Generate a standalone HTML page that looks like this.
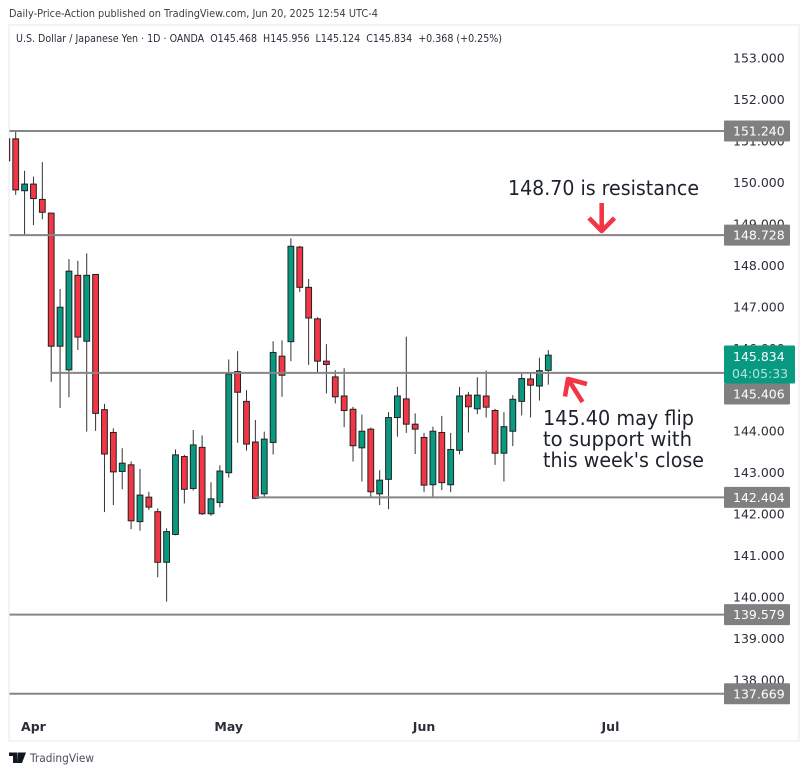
<!DOCTYPE html>
<html>
<head>
<meta charset="utf-8">
<title>USD/JPY daily chart</title>
<style>
html,body{margin:0;padding:0;background:#fff;width:808px;height:774px;overflow:hidden}
svg{display:block;font-family:"DejaVu Sans","Liberation Sans",sans-serif}
</style>
</head>
<body>
<svg id="chart" width="808" height="774" viewBox="0 0 808 774" xmlns="http://www.w3.org/2000/svg">
  <defs><clipPath id="pane"><rect x="9" y="25" width="714" height="716"/></clipPath></defs>
  <text x="9" y="17" font-size="10.5" fill="#3a3d45" textLength="369" lengthAdjust="spacingAndGlyphs">Daily-Price-Action published on TradingView.com, Jun 20, 2025 12:54 UTC-4</text>
  <rect x="9" y="25" width="790" height="716" fill="#fff" stroke="#f4f4f4" stroke-width="2"/>
  <text x="16" y="42" font-size="10.5" fill="#2a2e39" textLength="486" lengthAdjust="spacingAndGlyphs" xml:space="preserve">U.S. Dollar / Japanese Yen · 1D · OANDA  O145.468  H145.956  L145.124  C145.834  +0.368 (+0.25%)</text>
  <g id="ticks"></g>
  <g id="candles" clip-path="url(#pane)"></g>
  <g id="levels"></g>
  <g id="months"></g>
  <g id="last"></g>

  <text x="508" y="195" font-size="20" fill="#1e222d" textLength="191" lengthAdjust="spacingAndGlyphs">148.70 is resistance</text>
  <path d="M601.7 203V231M589 218L601.7 231L614.5 218" fill="none" stroke="#f23645" stroke-width="4.6" stroke-linejoin="round"/>
  <path d="M582.5 402L568 379M565 396.500L568 379L587 384" fill="none" stroke="#f23645" stroke-width="4.6" stroke-linejoin="round"/>
  <text x="543" y="425" font-size="20" fill="#1e222d" textLength="151" lengthAdjust="spacingAndGlyphs">145.40 may flip</text>
  <text x="543" y="446" font-size="20" fill="#1e222d" textLength="149" lengthAdjust="spacingAndGlyphs">to support with</text>
  <text x="543" y="467" font-size="20" fill="#1e222d" textLength="161" lengthAdjust="spacingAndGlyphs">this week's close</text>

  <g>
    <path d="M9 752.500H17.500V763H13V756H9ZM18 752.500H26L22 763H17.500Z" fill="#131722"/>
    <text x="30" y="762" font-size="11.500" fill="#4a4e58" textLength="64" lengthAdjust="spacingAndGlyphs">TradingView</text>
  </g>
</svg>
<script>
const opens  = [151.05,151.05,149.80,149.96,149.59,149.26,146.05,145.48,147.76,146.17,147.78,144.52,143.97,143.03,143.19,141.82,142.41,142.06,140.84,141.51,143.39,142.62,143.61,142.01,142.28,143.00,145.44,144.72,143.74,142.49,143.73,145.81,146.16,148.44,147.47,146.71,145.69,145.31,144.85,144.53,143.60,144.05,142.49,142.84,144.33,144.78,144.17,143.85,142.71,143.97,142.71,143.54,144.87,144.54,144.85,144.50,143.47,144.00,144.72,145.26,145.09,145.468];
const highs  = [151.05,151.22,150.28,150.14,150.49,149.26,147.43,148.15,148.11,148.29,147.79,144.66,144.07,143.59,143.27,143.09,142.54,142.14,141.66,143.56,143.43,144.03,143.90,142.77,143.18,145.73,145.93,144.99,144.27,143.99,146.17,146.19,148.65,148.47,147.67,146.75,146.10,145.47,145.52,144.59,144.40,144.09,143.06,144.46,145.07,146.28,144.43,143.96,144.11,144.37,143.96,145.07,144.95,145.30,145.46,144.54,144.46,144.87,145.40,145.40,145.77,145.956];
const lows   = [150.52,149.70,148.73,148.97,149.11,145.19,144.56,144.82,145.96,143.99,144.01,142.05,142.22,142.60,141.64,141.60,142.10,140.48,139.89,141.49,142.26,142.57,141.98,141.96,142.16,142.88,143.72,143.53,142.36,142.40,143.44,144.83,145.69,147.36,145.60,145.41,144.91,144.67,144.10,143.27,142.79,142.40,142.22,142.12,143.87,143.96,143.45,142.53,142.42,142.58,142.53,143.44,143.97,144.41,144.33,143.19,142.79,143.64,144.38,144.33,144.74,145.124];
const closes = [150.52,149.82,149.96,149.61,149.28,146.05,146.99,147.86,146.27,147.76,144.43,143.45,143.02,143.23,141.84,142.46,142.17,140.84,141.58,143.43,142.60,143.67,142.01,142.37,143.04,145.38,144.94,143.69,142.38,143.81,145.90,145.35,148.46,147.47,146.73,145.69,145.61,144.83,144.50,143.65,144.00,142.54,142.82,144.33,144.85,144.17,144.05,142.70,144.00,142.76,143.56,144.85,144.59,144.87,144.58,143.47,144.11,144.77,145.27,145.11,145.46,145.834];
const tickLabels = ["153.000","152.000","151.000","150.000","149.000","148.000","147.000","146.000","145.000","144.000","143.000","142.000","141.000","140.000","139.000","138.000"];
const levelPrices = [151.240,148.728,145.406,142.404,139.579,137.669];
const levelStartBars = [0,0,5,28,0,0];
const monthNames = ["Apr","May","Jun","Jul"];
const monthBars = [3,25,47,68];
const lastPriceLabel = "145.834";
const countdownLabel = "04:05:33";

const NS = "http://www.w3.org/2000/svg";
const yOf = p => 58 + (153 - p) * 41.47;
const xOf = i => 6.82 + i * 8.877;
const mk = (tag, parent, attrs) => {
  const el = document.createElementNS(NS, tag);
  for (const k in attrs) el.setAttribute(k, attrs[k]);
  parent.appendChild(el);
  return el;
};

const ticksG = document.getElementById("ticks");
tickLabels.forEach(label => {
  const t = mk("text", ticksG, {x: 733, y: yOf(parseFloat(label)) + 4.5, "font-size": 12.5, fill: "#2a2e39"});
  
  
  t.textContent = label;
});

const candlesG = document.getElementById("candles");
opens.forEach((o, i) => {
  const c = closes[i], x = xOf(i), up = c >= o;
  const g = mk("g", candlesG, {});
  
  
  mk("line", g, {x1: x, x2: x, y1: yOf(highs[i]), y2: yOf(lows[i]), stroke: "#333", "stroke-width": 1});
  const top = yOf(Math.max(o, c)), bot = yOf(Math.min(o, c));
  mk("rect", g, {x: x - 2.9, y: top, width: 5.8, height: Math.max(bot - top, 1), fill: up ? "#089981" : "#f23645", stroke: "#222", "stroke-width": 1});
});

// Tall last-price box, used to push a colliding level tag below it
const lastBoxTop = yOf(closes[closes.length - 1]) - 9.7;
const lastBoxHeight = 38;

const levelsG = document.getElementById("levels");
levelPrices.forEach((p, i) => {
  const y = yOf(p), x0 = levelStartBars[i] === 0 ? 9.5 : xOf(levelStartBars[i]);
  const ln = mk("line", levelsG, {x1: x0, x2: 724, y1: y, y2: y, stroke: "#868686", "stroke-width": 2});
  
  
  let tagTop = y - 10.5;
  if (tagTop < lastBoxTop + lastBoxHeight && tagTop + 21 > lastBoxTop) tagTop = lastBoxTop + lastBoxHeight;
  const r = mk("rect", levelsG, {x: 724, y: tagTop, width: 66, height: 21, fill: "#808080", rx: 1});
  
  
  const t = mk("text", levelsG, {x: 733, y: tagTop + 15, "font-size": 12.5, fill: "#fff"});
  
  
  t.textContent = p.toFixed(3);
});

const monthsG = document.getElementById("months");
monthNames.forEach((m, i) => {
  const t = mk("text", monthsG, {x: xOf(monthBars[i]), y: 731, "text-anchor": "middle", "font-size": 12.5, "font-weight": "bold", fill: "#2a2e39"});
  
  
  t.textContent = m;
});

const lastG = document.getElementById("last");
const tag = mk("rect", lastG, {x: 724, y: lastBoxTop, width: 71, height: lastBoxHeight, fill: "#089981", rx: 1});


const lp = mk("text", lastG, {x: 733, y: lastBoxTop + 15.5, "font-size": 12.5, fill: "#fff"});


lp.textContent = lastPriceLabel;
const cd = mk("text", lastG, {x: 732, y: lastBoxTop + 32.5, "font-size": 12.5, fill: "#b6e3da"});


cd.textContent = countdownLabel;
</script>
</body>
</html>
